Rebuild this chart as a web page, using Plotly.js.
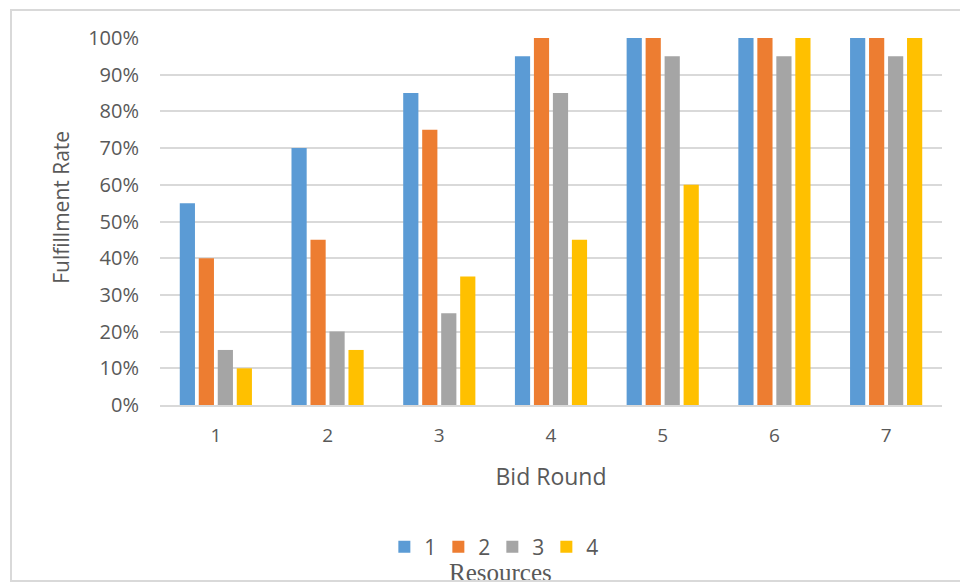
<!DOCTYPE html>
<html>
<head>
<meta charset="utf-8">
<script src="https://cdn.plot.ly/plotly-3.0.1.min.js"></script>
<style>
  html, body { margin: 0; padding: 0; background: #fff; }
  #wrap { position: relative; width: 960px; height: 585px; }
  #chart { width: 960px; height: 585px; }
  #frame { position: absolute; left: 10px; top: 9px; width: 960px; height: 573px;
           border: 2px solid #d9d9d9; box-sizing: border-box; pointer-events: none; }
</style>
</head>
<body>
<div id="wrap">
  <div id="chart"></div>
  <div id="frame"></div>
</div>
<script>
const rounds = ['1', '2', '3', '4', '5', '6', '7'];
const seriesNames = ['1', '2', '3', '4'];
const resource1 = [0.55, 0.70, 0.85, 0.95, 1.00, 1.00, 1.00];
const resource2 = [0.40, 0.45, 0.75, 1.00, 1.00, 1.00, 1.00];
const resource3 = [0.15, 0.20, 0.25, 0.85, 0.95, 0.95, 0.95];
const resource4 = [0.10, 0.15, 0.35, 0.45, 0.60, 1.00, 1.00];
const colors = ['#5B9BD5', '#ED7D31', '#A5A5A5', '#FFC000'];
const yTickVals = [0, 0.1, 0.2, 0.3, 0.4, 0.5, 0.6, 0.7, 0.8, 0.9, 1.0];
const yTickText = ['0%', '10%', '20%', '30%', '40%', '50%', '60%', '70%', '80%', '90%', '100%'];

const allSeries = [resource1, resource2, resource3, resource4];
const traces = allSeries.map((vals, i) => ({
  type: 'bar',
  name: seriesNames[i],
  x: rounds,
  y: vals,
  marker: { color: colors[i] },
  hoverinfo: 'x+y'
}));

const txt = '#595959';
const layout = {
  width: 960, height: 585,
  margin: { l: 160, r: 18, t: 38, b: 180 },
  paper_bgcolor: '#ffffff',
  plot_bgcolor: '#ffffff',
  font: { family: 'Open Sans, sans-serif', color: txt, size: 18 },
  barmode: 'group',
  bargap: 0.32,
  bargroupgap: 0.2,
  showlegend: true,
  xaxis: {
    type: 'category',
    tickfont: { size: 19, color: txt },
    showgrid: false,
    showline: true,
    linecolor: '#d9d9d9',
    linewidth: 2,
    ticks: '',
    ticklabelstandoff: 12,
    title: { text: 'Bid Round', font: { size: 23, color: txt }, standoff: 22 }
  },
  yaxis: {
    range: [0, 1],
    tickvals: yTickVals,
    ticktext: yTickText,
    tickfont: { size: 20, color: txt },
    showgrid: true,
    gridcolor: '#d9d9d9',
    gridwidth: 2,
    zeroline: false,
    showline: false,
    ticks: '',
    ticklabelstandoff: 20
  },
  legend: {
    orientation: 'h',
    x: 0.425, xanchor: 'center',
    y: -0.387, yanchor: 'middle',
    font: { size: 21, color: txt },
    itemwidth: 30,
    entrywidth: 9,
    entrywidthmode: 'pixels',
    traceorder: 'normal'
  },
  annotations: [{
    text: 'Fulfillment Rate',
    xref: 'paper', yref: 'paper',
    x: -0.1266, y: 0.54,
    xanchor: 'center', yanchor: 'middle',
    textangle: -90,
    showarrow: false,
    font: { size: 21, color: txt }
  }, {
    text: 'Resources',
    xref: 'paper', yref: 'paper',
    x: 0.435, y: -0.457,
    xanchor: 'center', yanchor: 'middle',
    showarrow: false,
    font: { family: 'Liberation Serif, Times New Roman, serif', size: 25, color: txt }
  }]
};

Plotly.newPlot('chart', traces, layout, { displayModeBar: false, staticPlot: true });
</script>
</body>
</html>
